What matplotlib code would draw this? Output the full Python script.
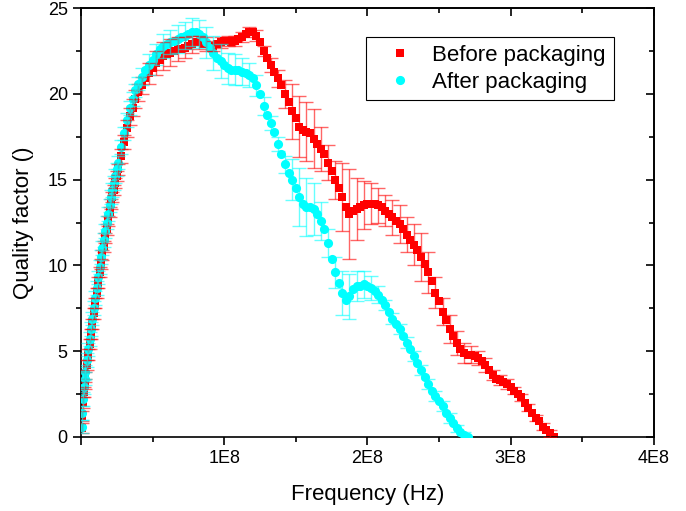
import numpy as np
import matplotlib
matplotlib.use('Agg')
import matplotlib.pyplot as plt
from matplotlib.ticker import MultipleLocator, FixedLocator, FixedFormatter

plt.rcParams['font.family'] = ['Liberation Sans', 'DejaVu Sans']

# frequency grid (MHz): fine at the low end, then 2.5 MHz steps
freq_rise = [0.5, 1, 1.5, 2, 2.5, 3, 4, 5, 6, 7,
             8, 9, 10, 11, 12, 13, 14, 15, 16, 17,
             18, 19, 20, 21, 22, 23, 24, 25, 26, 28,
             30, 32, 34, 36, 38, 40]
freq_sweep = [42.5, 45, 47.5, 50, 52.5, 55, 57.5, 60,
              62.5, 65, 67.5, 70, 72.5, 75, 77.5, 80,
              82.5, 85, 87.5, 90, 92.5, 95, 97.5, 100,
              102.5, 105, 107.5, 110, 112.5, 115, 117.5, 120,
              122.5, 125, 127.5, 130, 132.5, 135, 137.5, 140,
              142.5, 145, 147.5, 150, 152.5, 155, 157.5, 160,
              162.5, 165, 167.5, 170, 172.5, 175, 177.5, 180,
              182.5, 185, 187.5, 190, 192.5, 195, 197.5, 200,
              202.5, 205, 207.5, 210, 212.5, 215, 217.5, 220,
              222.5, 225, 227.5, 230, 232.5, 235, 237.5, 240,
              242.5, 245, 247.5, 250, 252.5, 255, 257.5, 260,
              262.5, 265, 267.5, 270, 272.5, 275, 277.5, 280,
              282.5, 285, 287.5, 290, 292.5, 295, 297.5, 300,
              302.5, 305, 307.5, 310, 312.5, 315, 317.5, 320,
              322.5, 325, 327.5, 330]

# Before packaging
q_before = [0.5, 1.2, 2.0, 2.6, 3.1, 3.5, 4.2, 4.8, 5.4, 6.0,
            6.6, 7.2, 7.8, 8.4, 9.0, 9.6, 10.1, 10.6, 11.1, 11.6,
            12.1, 12.6, 13.1, 13.6, 14.0, 14.4, 14.8, 15.2, 15.6, 16.4,
            17.2, 18.0, 18.7, 19.2, 19.7, 20.1,
            20.5, 20.9, 21.2, 21.5, 21.8, 22.0, 22.2, 22.3,
            22.4, 22.5, 22.6, 22.6, 22.7, 22.8, 22.9, 23.0,
            23.0, 22.9, 22.9, 22.8, 22.8, 22.9, 23.0, 23.1,
            23.1, 23.0, 23.1, 23.2, 23.3, 23.5, 23.6, 23.6,
            23.4, 23.0, 22.5, 22.1, 21.7, 21.3, 20.9, 20.5,
            20.0, 19.5, 19.0, 18.6, 18.1, 17.9, 17.8, 17.7,
            17.4, 17.1, 16.8, 16.5, 16.0, 15.5, 15.0, 14.5,
            14.0, 13.4, 13.0, 13.2, 13.3, 13.4, 13.5, 13.6,
            13.6, 13.6, 13.5, 13.4, 13.2, 13.0, 12.8, 12.6,
            12.4, 12.1, 11.8, 11.5, 11.2, 10.9, 10.5, 10.1,
            9.6, 9.1, 8.4, 7.9, 7.3, 6.8, 6.3, 5.9,
            5.5, 5.1, 4.9, 4.8, 4.8, 4.7, 4.6, 4.4,
            4.2, 3.9, 3.6, 3.4, 3.3, 3.2, 3.1, 2.9,
            2.7, 2.5, 2.3, 2.0, 1.7, 1.4, 1.1, 0.9,
            0.6, 0.4, 0.2, 0.0]
err_before = [0.3] * 29 + [0.4, 0.4, 0.5, 0.5, 0.5, 0.5, 0.5] + [
              0.5, 0.6, 0.6, 0.7, 0.7, 0.8, 0.8, 0.8,
              0.8, 0.8, 0.7, 0.7, 0.6, 0.6, 0.5, 0.5,
              0.4, 0.4, 0.4, 0.3, 0.3, 0.3, 0.3, 0.3,
              0.3, 0.3, 0.3, 0.3, 0.3, 0.3, 0.3, 0.3,
              0.3, 0.3, 0.3, 0.4, 0.4, 0.4, 0.5, 0.5,
              0.8, 1.2, 1.6, 2.0, 1.8, 1.6, 1.7, 1.8,
              1.7, 1.5, 1.3, 1.2, 1.0, 1.0, 1.1, 1.3,
              2.0, 2.5, 2.6, 2.0, 1.8, 1.5, 1.4, 1.3,
              1.2, 1.1, 1.0, 1.0, 0.9, 1.0, 1.0, 1.1,
              1.1, 1.0, 1.0, 1.1, 1.2, 1.3, 1.4, 1.4,
              1.2, 1.0, 0.9, 0.8, 0.8, 0.8, 0.8, 0.8,
              0.7, 0.7, 0.6, 0.5, 0.5, 0.5, 0.4, 0.4,
              0.4, 0.3, 0.3, 0.3, 0.3, 0.3, 0.3, 0.3,
              0.2, 0.2, 0.2, 0.2, 0.2, 0.2, 0.2, 0.2,
              0.2, 0.2, 0.2, 0.2]

# After packaging
q_after = [0.6, 1.4, 2.2, 2.9, 3.4, 3.8, 4.5, 5.1, 5.7, 6.3,
           6.9, 7.5, 8.1, 8.7, 9.3, 9.9, 10.5, 11.0, 11.5, 12.0,
           12.5, 13.0, 13.5, 14.0, 14.4, 14.8, 15.2, 15.6, 16.0, 16.9,
           17.7, 18.5, 19.2, 19.7, 20.2, 20.6,
           21.0, 21.4, 21.7, 22.0, 22.3, 22.6, 22.8, 22.9,
           23.0, 23.1, 23.2, 23.3, 23.4, 23.5, 23.6, 23.6,
           23.5, 23.3, 23.0, 22.7, 22.4, 22.1, 21.9, 21.7,
           21.5, 21.4, 21.4, 21.4, 21.3, 21.2, 21.1, 20.9,
           20.5, 20.0, 19.3, 18.8, 18.3, 17.8, 17.1, 16.5,
           15.9, 15.4, 15.0, 14.5, 14.0, 13.6, 13.4, 13.4,
           13.3, 13.0, 12.6, 12.1, 11.3, 10.4, 9.6, 9.0,
           8.4, 8.0, 8.2, 8.6, 8.8, 8.8, 8.9, 8.8,
           8.7, 8.5, 8.3, 8.0, 7.7, 7.3, 6.9, 6.6,
           6.3, 5.9, 5.5, 5.1, 4.7, 4.3, 3.9, 3.5,
           3.1, 2.7, 2.4, 2.1, 1.8, 1.4, 1.1, 0.8,
           0.5, 0.3, 0.1, 0.0]
err_after = [0.4] * 36 + [
             0.5, 0.5, 0.6, 0.6, 0.6, 0.7, 0.7, 0.7,
             0.7, 0.7, 0.8, 0.8, 0.8, 0.8, 0.8, 0.8,
             0.8, 0.8, 0.9, 0.9, 1.0, 1.0, 1.0, 1.0,
             0.9, 0.9, 0.9, 0.8, 0.8, 0.8, 0.7, 0.7,
             0.6, 0.5, 0.5, 0.5, 0.4, 0.4, 0.4, 0.4,
             0.5, 0.8, 1.2, 1.5, 1.7, 1.8, 1.7, 1.6,
             1.5, 1.3, 1.1, 0.9, 0.8, 0.8, 0.9, 1.0,
             1.3, 1.5, 1.3, 1.1, 0.9, 0.8, 0.8, 0.8,
             0.7, 0.6, 0.5, 0.4, 0.3, 0.3, 0.3, 0.3,
             0.3, 0.3, 0.3, 0.3, 0.3, 0.3, 0.3, 0.3,
             0.3, 0.3, 0.3, 0.3, 0.3, 0.3, 0.3, 0.3,
             0.2, 0.2, 0.2, 0.2]

x_ticks = [0, 1e8, 2e8, 3e8, 4e8]
x_tick_labels = ['', '1E8', '2E8', '3E8', '4E8']

freq_all = np.array(freq_rise + freq_sweep) * 1e6
f_before = freq_all[:len(q_before)]
f_after = freq_all[:len(q_after)]
n_rise = len(freq_rise)

# error bars: every point in the fine part, every other point after it
show_before = np.zeros(len(q_before), dtype=bool)
show_before[:n_rise] = True
show_before[n_rise::2] = True
show_after = np.zeros(len(q_after), dtype=bool)
show_after[:n_rise] = True
show_after[n_rise::2] = True

fig = plt.figure(figsize=(6.86, 5.11), dpi=100)
ax = fig.add_axes([0.118, 0.145, 0.835, 0.839])

ax.plot(f_before, q_before, 's', color='red', ms=5.8, mew=0, zorder=2,
        label='Before packaging')
ax.plot(f_after, q_after, 'o', color='cyan', ms=6.6, mew=0, zorder=3,
        label='After packaging')
ax.errorbar(f_before, q_before, yerr=err_before, fmt='none', ecolor='red',
            elinewidth=1, capsize=5, capthick=1, alpha=0.6, zorder=4,
            errorevery=show_before)
ax.errorbar(f_after, q_after, yerr=err_after, fmt='none', ecolor='cyan',
            elinewidth=1, capsize=5, capthick=1, alpha=0.6, zorder=4,
            errorevery=show_after)

ax.set_xlim(0, 4e8)
ax.set_ylim(0, 25)
ax.xaxis.set_major_locator(FixedLocator(x_ticks))
ax.xaxis.set_major_formatter(FixedFormatter(x_tick_labels))
ax.xaxis.set_minor_locator(MultipleLocator(0.5e8))
ax.yaxis.set_major_locator(MultipleLocator(5))
ax.yaxis.set_minor_locator(MultipleLocator(2.5))
ax.tick_params(which='major', direction='out', length=6, width=1.2, labelsize=13)
ax.tick_params(which='minor', direction='out', length=3.5, width=1.2)
for s in ax.spines.values():
    s.set_linewidth(1.2)

# mirrored ticks on top and right, pointing inward
top = ax.secondary_xaxis('top')
top.xaxis.set_major_locator(FixedLocator(x_ticks))
top.xaxis.set_minor_locator(MultipleLocator(0.5e8))
top.tick_params(which='major', direction='in', length=6, width=1.2, labeltop=False)
top.tick_params(which='minor', direction='in', length=3.5, width=1.2)
top.spines['top'].set_linewidth(1.2)
right = ax.secondary_yaxis('right')
right.yaxis.set_major_locator(MultipleLocator(5))
right.yaxis.set_minor_locator(MultipleLocator(2.5))
right.tick_params(which='major', direction='in', length=6, width=1.2, labelright=False)
right.tick_params(which='minor', direction='in', length=3.5, width=1.2)
right.spines['right'].set_linewidth(1.2)

ax.set_xlabel('Frequency (Hz)', fontsize=16, labelpad=12)
ax.set_ylabel('Quality factor ()', fontsize=16, labelpad=10)

leg = ax.legend(loc='upper right', bbox_to_anchor=(0.93, 0.932), fontsize=16,
                frameon=True, fancybox=False, edgecolor='black', framealpha=1,
                handlelength=2.4, handletextpad=0.25, borderpad=0.35,
                labelspacing=0.25, borderaxespad=0, markerscale=1.0)
leg.get_frame().set_linewidth(0.8)

fig.savefig('out.png', dpi=100)
